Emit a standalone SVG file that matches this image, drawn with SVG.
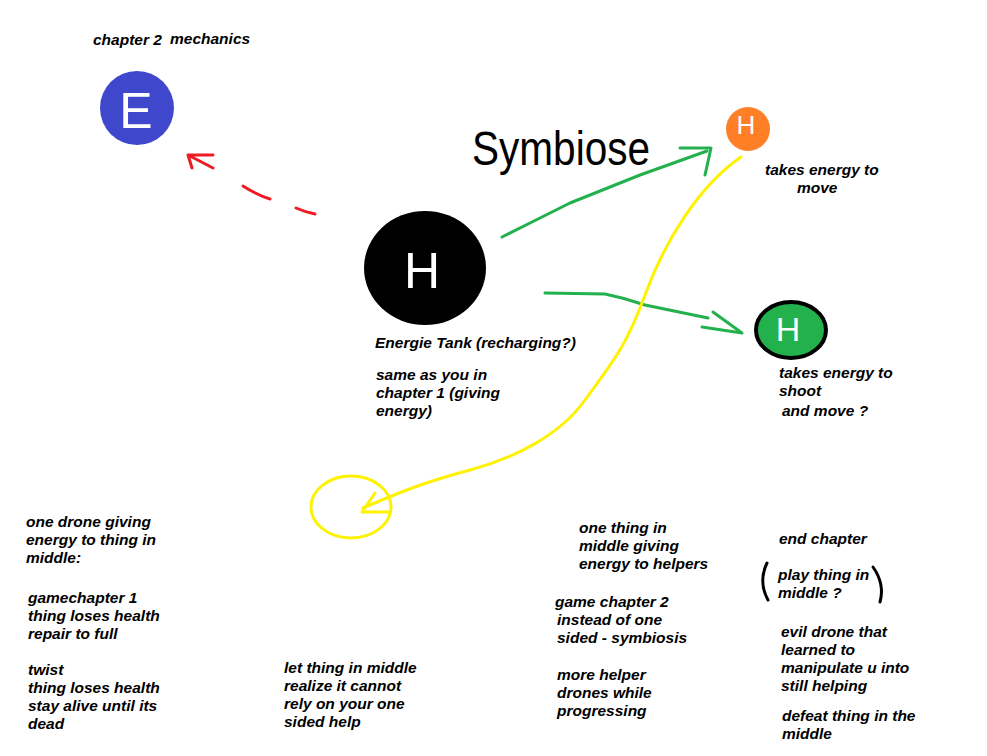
<svg xmlns="http://www.w3.org/2000/svg" width="987" height="756" viewBox="0 0 987 756">
<style>
.t{font-family:"Liberation Sans",Arial,sans-serif;font-weight:bold;font-style:italic;font-size:15.5px;fill:#000}
.g{fill:none;stroke:#22b14c;stroke-width:3;stroke-linecap:round;stroke-linejoin:round}
.y{fill:none;stroke:#fff200;stroke-width:3;stroke-linecap:round;stroke-linejoin:round}
.r{fill:none;stroke:#ed1c24;stroke-width:3;stroke-linecap:round;stroke-linejoin:round}
.lt{font-family:"Liberation Sans",Arial,sans-serif;fill:#fff;text-anchor:middle}
</style>
<rect width="987" height="756" fill="#fff"/>
<g id="connectors">
<path class="r" d="M296 208 Q305 212 315 214"/>
<path class="r" d="M243 186 Q257 195 270 199"/>
<path class="r" d="M213 168 L188 155 L213 155 M188 155 L192 168"/>
<path class="g" d="M502 237 L530 223 L570 203 L640 175 L707 151"/>
<path class="g" d="M680 148 L711 148 L705 175"/>
<path class="g" d="M545 293 L605 294 Q625 298 645 305 L708 318 M713 312 L742 333 L702 327"/>
<path class="y" d="M741 157 C700 185 665 240 645 295 S610 365 585 400 C560 435 515 458 470 470 S400 492 363 508"/>
<path class="y" d="M375 493 L362 512 L390 512"/>
<ellipse class="y" cx="351" cy="507" rx="40" ry="31" stroke-width="4"/>
<path d="M767 563 Q758 582 768 600" fill="none" stroke="#000" stroke-width="3" stroke-linecap="round"/>
<path d="M873 567 Q885 584 880 602" fill="none" stroke="#000" stroke-width="3" stroke-linecap="round"/>
</g>
<g id="node-e">
<circle cx="137" cy="108" r="37" fill="#3f48cc"/>
<text class="lt" x="136" y="128" font-size="50">E</text>
</g>
<g id="node-tank">
<ellipse cx="425" cy="268" rx="61" ry="57" fill="#000"/>
<text class="lt" x="422" y="288" font-size="50">H</text>
</g>
<g id="node-orange">
<circle cx="748" cy="129" r="22" fill="#ff7f27"/>
<text class="lt" x="746" y="134" font-size="26">H</text>
</g>
<g id="node-green">
<ellipse cx="791" cy="330" rx="35" ry="28" fill="#22b14c" stroke="#000" stroke-width="4"/>
<text class="lt" x="788" y="341" font-size="34">H</text>
</g>
<g id="symbiose">
<text x="472" y="165" font-family="'Liberation Sans',Arial,sans-serif" font-size="48" textLength="178" lengthAdjust="spacingAndGlyphs" fill="#000">Symbiose</text>
</g>
<g id="labels">
<text class="t" x="93" y="45">chapter 2</text>
<text class="t" x="170" y="44">mechanics</text>
<text class="t" x="765" y="175">takes energy  to</text>
<text class="t" x="797" y="193">move</text>
<text class="t" x="375" y="348">Energie Tank (recharging?)</text>
<text class="t" x="376" y="380">same as you in</text>
<text class="t" x="376" y="398">chapter 1 (giving</text>
<text class="t" x="376" y="416">energy)</text>
<text class="t" x="779" y="378">takes energy to</text>
<text class="t" x="779" y="396">shoot</text>
<text class="t" x="782" y="416">and move  ?</text>
<text class="t" x="26" y="527">one drone giving</text>
<text class="t" x="26" y="545">energy to thing in</text>
<text class="t" x="26" y="563">middle:</text>
<text class="t" x="28" y="603">gamechapter 1</text>
<text class="t" x="28" y="621">thing loses health</text>
<text class="t" x="28" y="639">repair to full</text>
<text class="t" x="28" y="675">twist</text>
<text class="t" x="28" y="693">thing loses health</text>
<text class="t" x="28" y="711">stay alive until its</text>
<text class="t" x="28" y="729">dead</text>
<text class="t" x="284" y="673">let thing in middle</text>
<text class="t" x="284" y="691">realize it cannot</text>
<text class="t" x="284" y="709">rely on your one</text>
<text class="t" x="284" y="727">sided help</text>
<text class="t" x="579" y="533">one thing in</text>
<text class="t" x="579" y="551">middle giving</text>
<text class="t" x="579" y="569">energy to helpers</text>
<text class="t" x="555" y="607">game chapter 2</text>
<text class="t" x="557" y="625">instead of one</text>
<text class="t" x="557" y="643">sided - symbiosis</text>
<text class="t" x="557" y="680">more helper</text>
<text class="t" x="557" y="698">drones while</text>
<text class="t" x="557" y="716">progressing</text>
<text class="t" x="779" y="544">end chapter</text>
<text class="t" x="778" y="580">play thing in</text>
<text class="t" x="778" y="598">middle ?</text>
<text class="t" x="781" y="637">evil drone that</text>
<text class="t" x="781" y="655">learned to</text>
<text class="t" x="781" y="673">manipulate u into</text>
<text class="t" x="781" y="691">still helping</text>
<text class="t" x="782" y="721">defeat thing in the</text>
<text class="t" x="782" y="739">middle</text>
</g>
</svg>
